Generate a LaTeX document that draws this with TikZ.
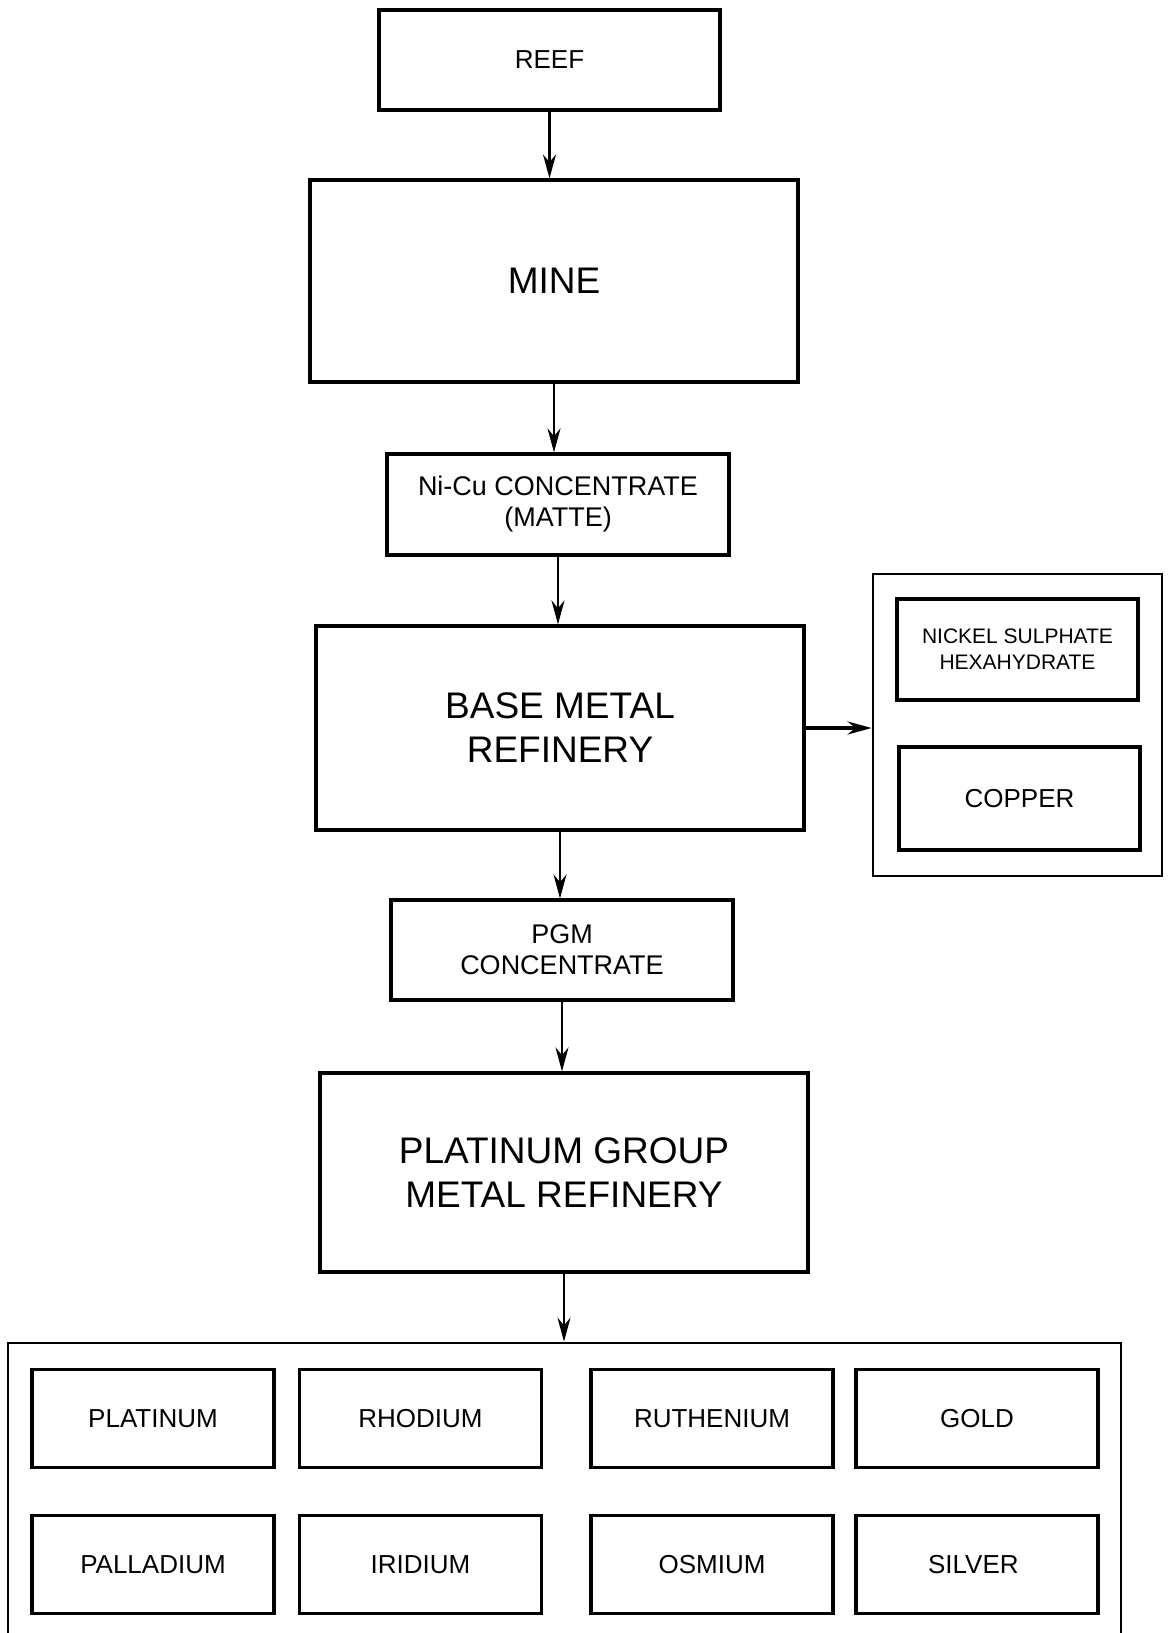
\documentclass[tikz,border=0pt]{standalone}
\usepackage{fontspec}
\setmainfont{Liberation Sans}
\usetikzlibrary{arrows.meta}

\begin{document}
\begin{tikzpicture}[
    x=1pt, y=-1pt,
    box/.style={draw, line width=3.2pt, inner sep=0pt, align=center},
    big box/.style={box, minimum width=488pt, font=\fontsize{37}{44}\selectfont},
    mid box/.style={box, minimum width=342pt, minimum height=100pt, font=\fontsize{27}{31}\selectfont},
    metal box/.style={box, minimum width=242pt, minimum height=98pt, font=\fontsize{26}{30}\selectfont},
    frame box/.style={draw, line width=2.8pt, inner sep=0pt},
    flow/.style={line width=2.4pt, -{Stealth[length=24pt, width=13pt]}}
]

\useasboundingbox (0,0) rectangle (1168,1633);

% 1. Cadena principal del proceso
\node[box, minimum width=341pt, minimum height=100pt, font=\fontsize{26}{30}\selectfont] (reef) at (549.5, 60) {REEF};
\node[big box, minimum height=202pt] (mine) at (554, 281) {MINE};
\node[mid box, minimum height=101pt] (matte) at (558, 504.5) {Ni-Cu CONCENTRATE\\(MATTE)};
\node[big box, minimum height=204pt] (bmr) at (560, 728) {BASE METAL\\REFINERY};
\node[mid box] (pgmc) at (562, 950) {PGM\\CONCENTRATE};
\node[big box, minimum height=199pt] (pgmr) at (564, 1172.5) {PLATINUM GROUP\\METAL REFINERY};

% 2. Productos de la refinería de metales base
\node[frame box, minimum width=289pt, minimum height=302pt] (basemetals) at (1017.5, 725) {};
\node[box, minimum width=241pt, minimum height=101pt, font=\fontsize{21}{26}\selectfont] (nickel) at (1017.5, 649.5) {NICKEL SULPHATE\\HEXAHYDRATE};
\node[box, minimum width=241pt, minimum height=103pt, font=\fontsize{26}{30}\selectfont] (copper) at (1019.5, 798.5) {COPPER};

% 3. Metales del grupo del platino (la caja sigue bajo el borde)
\node[frame box, minimum width=1113pt, minimum height=317pt] (metals) at (564.5, 1501.5) {};
\foreach \name/\px/\py/\label in {
    m1/153/1418.5/PLATINUM,
    m2/420.5/1418.5/RHODIUM,
    m3/712/1418.5/RUTHENIUM,
    m4/977/1418.5/GOLD,
    m5/153/1564.5/PALLADIUM,
    m6/420.5/1564.5/IRIDIUM,
    m7/712/1564.5/OSMIUM,
    m8/977/1564.5/SILVER
}{
    \node[metal box] (\name) at (\px, \py) {\label};
}

% 4. Flechas
\draw[flow] (reef.south) -- (reef.south |- mine.north);
\draw[flow] (mine.south) -- (mine.south |- matte.north);
\draw[flow] (matte.south) -- (matte.south |- bmr.north);
\draw[flow] (bmr.south) -- (bmr.south |- pgmc.north);
\draw[flow] (pgmc.south) -- (pgmc.south |- pgmr.north);
\draw[flow] (pgmr.south) -- (pgmr.south |- metals.north);
\draw[flow, line width=3.4pt] (bmr.east) -- (bmr.east -| basemetals.west);

\end{tikzpicture}
\end{document}
